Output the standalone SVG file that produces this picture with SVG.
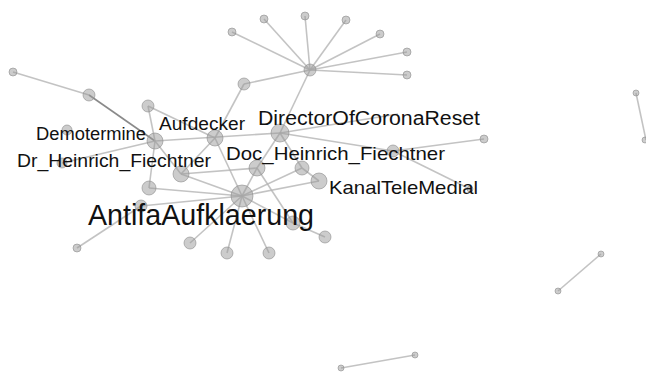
<svg xmlns="http://www.w3.org/2000/svg" width="646" height="372" viewBox="0 0 646 372">
<style>
.e{stroke:#b4b4b4;stroke-width:1.6;stroke-opacity:0.8;fill:none}
.e2{stroke:#8a8a8a;stroke-width:1.6;fill:none}
.n circle{fill:#9a9a9a;fill-opacity:0.5;stroke:#8c8c8c;stroke-opacity:0.6;stroke-width:1}
.l{font-family:"Liberation Sans",Arial,Helvetica,sans-serif;fill:#111}
</style>
<rect width="646" height="372" fill="#fff"/>
<g id="connectors">
<line class="e" x1="310" y1="70" x2="232" y2="32"/>
<line class="e" x1="310" y1="70" x2="264" y2="19"/>
<line class="e" x1="310" y1="70" x2="305" y2="16"/>
<line class="e" x1="310" y1="70" x2="346" y2="20"/>
<line class="e" x1="310" y1="70" x2="380" y2="34"/>
<line class="e" x1="310" y1="70" x2="407" y2="52"/>
<line class="e" x1="310" y1="70" x2="407" y2="75"/>
<line class="e" x1="310" y1="70" x2="244" y2="84"/>
<line class="e" x1="310" y1="70" x2="280" y2="133"/>
<line class="e" x1="244" y1="84" x2="215" y2="138"/>
<line class="e" x1="13" y1="72" x2="89" y2="95"/>
<line class="e2" x1="89" y1="95" x2="155" y2="141"/>
<line class="e" x1="148" y1="106" x2="215" y2="138"/>
<line class="e" x1="148" y1="106" x2="155" y2="141"/>
<line class="e" x1="155" y1="141" x2="149" y2="188"/>
<line class="e" x1="155" y1="141" x2="62" y2="163"/>
<line class="e" x1="155" y1="141" x2="280" y2="133"/>
<line class="e" x1="155" y1="141" x2="181" y2="174"/>
<line class="e" x1="280" y1="133" x2="398" y2="114"/>
<line class="e" x1="280" y1="133" x2="393" y2="151"/>
<line class="e" x1="393" y1="151" x2="484" y2="139"/>
<line class="e" x1="393" y1="151" x2="470" y2="189"/>
<line class="e" x1="280" y1="133" x2="257" y2="168"/>
<line class="e" x1="257" y1="168" x2="242" y2="196"/>
<line class="e" x1="280" y1="133" x2="302" y2="168"/>
<line class="e" x1="302" y1="168" x2="319" y2="181"/>
<line class="e" x1="215" y1="138" x2="242" y2="196"/>
<line class="e" x1="215" y1="138" x2="181" y2="174"/>
<line class="e" x1="181" y1="174" x2="257" y2="168"/>
<line class="e" x1="181" y1="174" x2="242" y2="196"/>
<line class="e" x1="257" y1="168" x2="293" y2="223"/>
<line class="e" x1="293" y1="223" x2="325" y2="237"/>
<line class="e" x1="242" y1="196" x2="293" y2="223"/>
<line class="e" x1="242" y1="196" x2="302" y2="168"/>
<line class="e" x1="242" y1="196" x2="319" y2="181"/>
<line class="e" x1="242" y1="196" x2="149" y2="188"/>
<line class="e" x1="242" y1="196" x2="141" y2="206"/>
<line class="e" x1="141" y1="206" x2="77" y2="248"/>
<line class="e" x1="242" y1="196" x2="190" y2="243"/>
<line class="e" x1="242" y1="196" x2="227" y2="253"/>
<line class="e" x1="242" y1="196" x2="269" y2="253"/>
<line class="e" x1="636" y1="93" x2="646" y2="140"/>
<line class="e" x1="601" y1="254" x2="558" y2="291"/>
<line class="e" x1="341" y1="368" x2="415" y2="355"/>
</g>
<g class="n">
<g id="n-star"><circle cx="310" cy="70" r="6"/></g>
<g id="n-s1"><circle cx="232" cy="32" r="4"/></g>
<g id="n-s2"><circle cx="264" cy="19" r="4"/></g>
<g id="n-s3"><circle cx="305" cy="16" r="4"/></g>
<g id="n-s4"><circle cx="346" cy="20" r="4"/></g>
<g id="n-s5"><circle cx="380" cy="34" r="4"/></g>
<g id="n-s6"><circle cx="407" cy="52" r="4"/></g>
<g id="n-s7"><circle cx="407" cy="75" r="4"/></g>
<g id="n-a1"><circle cx="244" cy="84" r="6"/></g>
<g id="n-far"><circle cx="13" cy="72" r="4"/></g>
<g id="n-b1"><circle cx="89" cy="95" r="6"/></g>
<g id="n-b2"><circle cx="148" cy="106" r="6"/></g>
<g id="n-b3"><circle cx="67" cy="130" r="5"/></g>
<g id="n-drh"><circle cx="62" cy="163" r="5"/></g>
<g id="n-demo"><circle cx="155" cy="141" r="8"/></g>
<g id="n-aufd"><circle cx="215" cy="138" r="8"/></g>
<g id="n-dir"><circle cx="280" cy="133" r="9"/></g>
<g id="n-doc"><circle cx="257" cy="168" r="8"/></g>
<g id="n-antifa"><circle cx="242" cy="196" r="11"/></g>
<g id="n-c1"><circle cx="181" cy="174" r="8"/></g>
<g id="n-c2"><circle cx="149" cy="188" r="7"/></g>
<g id="n-c3"><circle cx="141" cy="206" r="6"/></g>
<g id="n-c4"><circle cx="77" cy="248" r="4"/></g>
<g id="n-c5"><circle cx="190" cy="243" r="6"/></g>
<g id="n-c6"><circle cx="227" cy="253" r="6"/></g>
<g id="n-c7"><circle cx="269" cy="253" r="6"/></g>
<g id="n-c8"><circle cx="293" cy="223" r="7"/></g>
<g id="n-c9"><circle cx="325" cy="237" r="6"/></g>
<g id="n-d1"><circle cx="302" cy="168" r="7"/></g>
<g id="n-kanal"><circle cx="319" cy="181" r="8"/></g>
<g id="n-d2"><circle cx="393" cy="151" r="6"/></g>
<g id="n-d3"><circle cx="484" cy="139" r="4"/></g>
<g id="n-d4"><circle cx="470" cy="189" r="3"/></g>
<g id="n-r1"><circle cx="636" cy="93" r="3"/></g>
<g id="n-r2"><circle cx="645" cy="140" r="3"/></g>
<g id="n-r3"><circle cx="601" cy="254" r="3"/></g>
<g id="n-r4"><circle cx="558" cy="291" r="3"/></g>
<g id="n-r5"><circle cx="341" cy="368" r="3"/></g>
<g id="n-r6"><circle cx="415" cy="355" r="3"/></g>
</g>
<g id="labels">
<text class="l" x="258" y="125" font-size="19.5" textLength="222" lengthAdjust="spacingAndGlyphs">DirectorOfCoronaReset</text>
<text class="l" x="226" y="160" font-size="19" textLength="219" lengthAdjust="spacingAndGlyphs">Doc_Heinrich_Fiechtner</text>
<text class="l" x="329" y="194" font-size="18.5" textLength="149" lengthAdjust="spacingAndGlyphs">KanalTeleMedial</text>
<text class="l" x="159" y="130" font-size="18" textLength="86" lengthAdjust="spacingAndGlyphs">Aufdecker</text>
<text class="l" x="36" y="140" font-size="17.5" textLength="110" lengthAdjust="spacingAndGlyphs">Demotermine</text>
<text class="l" x="17" y="167" font-size="18.5" textLength="194" lengthAdjust="spacingAndGlyphs">Dr_Heinrich_Fiechtner</text>
<text class="l" x="88" y="225" font-size="29" textLength="226" lengthAdjust="spacingAndGlyphs">AntifaAufklaerung</text>
</g>
</svg>
